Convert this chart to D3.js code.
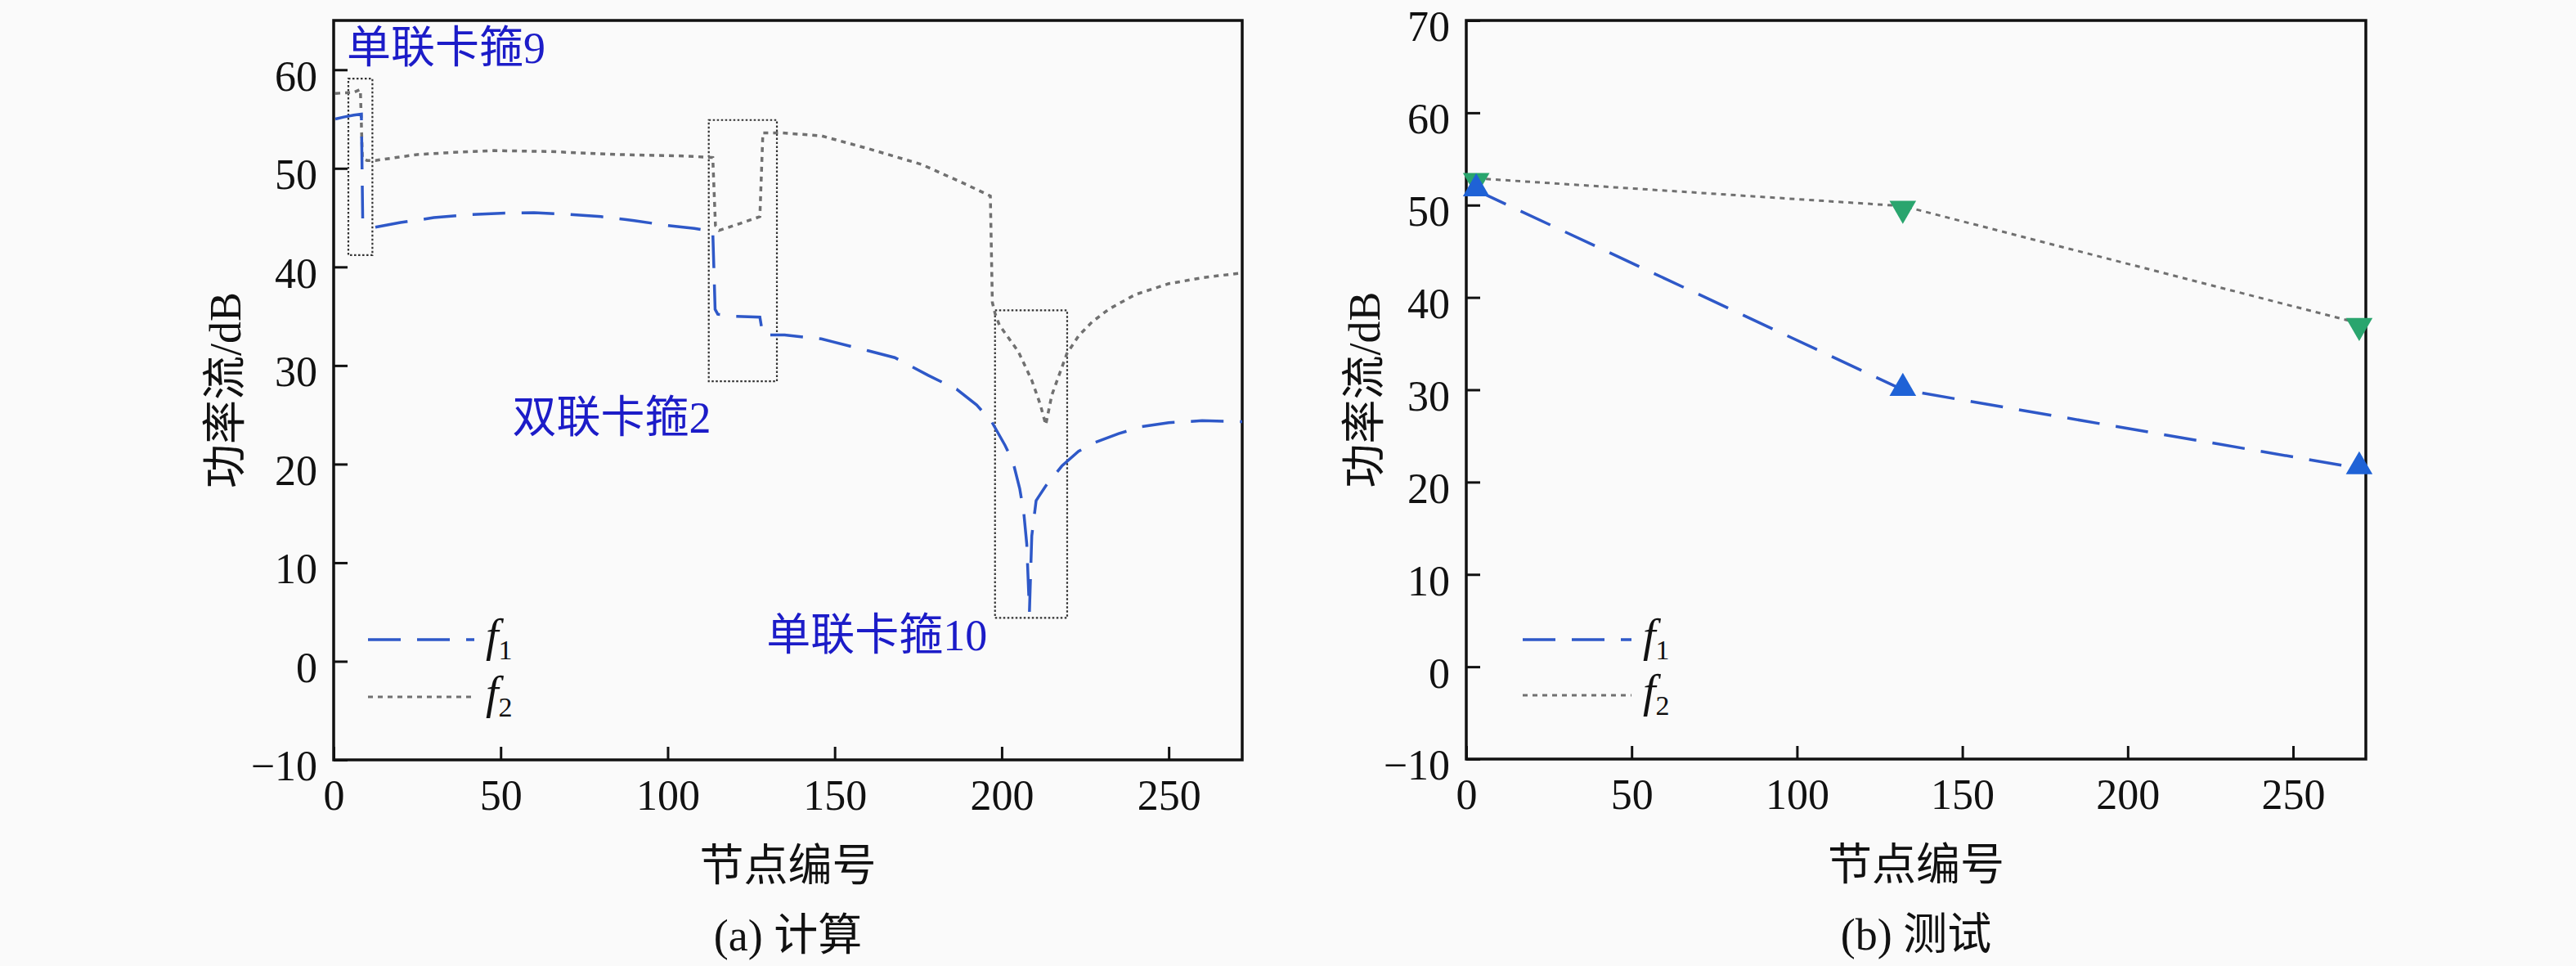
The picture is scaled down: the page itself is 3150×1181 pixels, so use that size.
<!DOCTYPE html>
<html>
<head>
<meta charset="utf-8">
<title>功率流</title>
<script src="https://cdn.jsdelivr.net/npm/d3@7"></script>
<style>
  body { margin: 0; background: #fafafa; }
  svg { display: block; }
  text { font-family: "Liberation Serif", "Noto Sans CJK SC", serif; fill: #111; }
</style>
</head>
<body>
<div id="chart"></div>
<script>
// ---------- data ----------
// (a) 计算 : node index vs power flow (dB)
var calcF1 = [
  [0.5, 55.0], [3, 55.2], [6, 55.4], [8.3, 55.5], [8.7, 44.8], [12, 44.0], [20, 44.5],
  [30, 45.0], [40, 45.3], [50, 45.45], [60, 45.5], [70, 45.35], [80, 45.1], [90, 44.7],
  [100, 44.2], [108, 43.9], [113.5, 43.6], [114.2, 35.7], [115, 35.2], [120, 35.0],
  [127.6, 34.9], [128.5, 33.1], [135, 33.1], [146, 32.7], [160, 31.5], [168, 30.8],
  [178, 29.0], [186.5, 27.6], [192.5, 26.0], [197, 24.3], [201, 21.9], [203.4, 20.2],
  [205.4, 17.5], [206.6, 15.1], [207.5, 11.9], [208.3, 5.0], [209, 12.7], [210.3, 16.3],
  [213.2, 17.8], [218, 19.8], [223, 21.3], [228, 22.2], [235, 23.1], [242, 23.8],
  [250, 24.2], [260, 24.4], [272, 24.3]
];
var calcF2 = [
  [0.5, 57.6], [6, 57.7], [8.0, 58.0], [8.6, 51.0], [10, 50.8], [12.5, 50.8], [25, 51.4],
  [35, 51.6], [48, 51.8], [65, 51.7], [85, 51.4], [105, 51.25], [113.5, 51.1],
  [114.3, 44.2], [115.4, 43.7], [121.6, 44.4], [127.6, 45.1], [128.5, 53.6], [134, 53.6],
  [146, 53.3], [160, 52.0], [176, 50.4], [188.5, 48.5], [196.6, 47.2], [197.2, 36.4],
  [198, 35.3], [199.3, 34.1], [205, 31.4], [209, 28.5], [211.5, 26.1], [213.2, 24.0],
  [215, 27.0], [219.5, 31.2], [223, 33.0], [227, 34.4], [232, 35.7], [240, 37.2],
  [250, 38.3], [260, 38.9], [272, 39.4]
];
// dotted boxes around the clamps: [x0, x1, y0, y1]
var clampBoxes = [[4.4, 11.6, 41.2, 59.1], [112.3, 132.7, 28.4, 54.9], [198, 219.6, 4.4, 35.6]];
// clamp labels: [text, x, y]
var clampLabels = [["单联卡箍9", 3.9, 62.2], ["双联卡箍2", 53.5, 24.7], ["单联卡箍10", 129.6, 2.6]];

// (b) 测试
var testNodes = [3, 132, 270];
var testF1 = [51.6, 30.0, 21.5];
var testF2 = [52.9, 49.9, 37.2];

var xTicks = [0, 50, 100, 150, 200, 250];
var yTicksA = [-10, 0, 10, 20, 30, 40, 50, 60];
var yTicksB = [-10, 0, 10, 20, 30, 40, 50, 60, 70];

// ---------- setup ----------
var W = 3150, H = 1181;
var svg = d3.select("#chart").append("svg").attr("width", W).attr("height", H);

var blue = "#2e58c8", grey = "#707070";
var fmt = function(d) { return d < 0 ? "\u2212" + (-d) : d; };

function panel(opt) {
  var g = svg.append("g");
  var x = d3.scaleLinear().domain([0, 272]).range([opt.left, opt.right]);
  var y = d3.scaleLinear().domain(opt.ydom).range([opt.bottom, opt.top]);

  g.append("clipPath").attr("id", opt.id).append("rect")
    .attr("x", opt.left).attr("y", opt.top)
    .attr("width", opt.right - opt.left).attr("height", opt.bottom - opt.top);

  var xa = g.append("g").attr("transform", "translate(0," + opt.bottom + ")")
    .call(d3.axisBottom(x).tickValues(xTicks).tickSize(-16).tickPadding(24));
  var ya = g.append("g").attr("transform", "translate(" + opt.left + ",0)")
    .call(d3.axisLeft(y).tickValues(opt.yticks).tickSize(-17).tickPadding(20).tickFormat(fmt));
  [xa, ya].forEach(function(a) {
    a.select(".domain").remove();
    a.selectAll("line").attr("stroke", "#111").attr("stroke-width", 3);
    a.selectAll("text").attr("font-size", 52).attr("fill", "#111")
      .attr("font-family", "Liberation Serif, serif");
  });
  xa.selectAll("text").attr("dy", "0.71em");
  ya.selectAll("text").attr("dy", "0.48em");

  g.append("rect").attr("x", opt.left).attr("y", opt.top)
    .attr("width", opt.right - opt.left).attr("height", opt.bottom - opt.top)
    .attr("fill", "none").attr("stroke", "#111").attr("stroke-width", 3.5);

  var cx = (opt.left + opt.right) / 2;
  g.append("text").attr("x", cx).attr("y", opt.bottom + 130)
    .attr("text-anchor", "middle").attr("dominant-baseline", "central")
    .attr("font-size", 54).text("节点编号");
  g.append("text").attr("x", cx).attr("y", opt.bottom + 215)
    .attr("text-anchor", "middle").attr("dominant-baseline", "central")
    .attr("font-size", 54).text(opt.caption);
  g.append("text")
    .attr("transform", "translate(" + opt.ylabX + "," + ((opt.top + opt.bottom) / 2) + ") rotate(-90)")
    .attr("text-anchor", "middle").attr("dominant-baseline", "central")
    .attr("font-size", 54).text("功率流/dB");

  // legend
  var lg = g.append("g");
  var items = [{ n: "1", c: blue, d: "40,20", w: 3.5 }, { n: "2", c: grey, d: "6,6", w: 3 }];
  items.forEach(function(it, i) {
    var ly = opt.legY + i * opt.legGap;
    lg.append("line").attr("x1", opt.left + opt.legX).attr("x2", opt.left + opt.legX + opt.legLen)
      .attr("y1", ly).attr("y2", ly)
      .attr("stroke", it.c).attr("stroke-width", it.w).attr("stroke-dasharray", it.d);
    var t = lg.append("text").attr("x", opt.left + opt.legX + opt.legLen + 14).attr("y", ly + 14)
      .attr("font-size", 56).attr("font-family", "Liberation Serif, serif");
    t.append("tspan").attr("font-style", "italic").text("f");
    t.append("tspan").attr("font-size", 34).attr("dy", 10).text(it.n);
  });

  return { g: g, x: x, y: y };
}

// ---------- (a) 计算 ----------
var A = panel({ id: "clipA", left: 408, right: 1519, top: 25, bottom: 929, ydom: [-10, 65],
  yticks: yTicksA, caption: "(a) 计算", ylabX: 276,
  legX: 42, legLen: 130, legY: 782, legGap: 70 });

var lineA = d3.line().x(function(d) { return A.x(d[0]); }).y(function(d) { return A.y(d[1]); });
var plotA = A.g.append("g").attr("clip-path", "url(#clipA)");

plotA.selectAll("rect.box").data(clampBoxes).enter().append("rect").attr("class", "box")
  .attr("x", function(d) { return A.x(d[0]); })
  .attr("y", function(d) { return A.y(d[3]); })
  .attr("width", function(d) { return A.x(d[1]) - A.x(d[0]); })
  .attr("height", function(d) { return A.y(d[2]) - A.y(d[3]); })
  .attr("fill", "none").attr("stroke", "#333").attr("stroke-width", 2.2)
  .attr("stroke-dasharray", "2.5,2.5");

plotA.append("path").datum(calcF2).attr("d", lineA)
  .attr("fill", "none").attr("stroke", grey).attr("stroke-width", 3.5)
  .attr("stroke-dasharray", "6,6");
plotA.append("path").datum(calcF1).attr("d", lineA)
  .attr("fill", "none").attr("stroke", blue).attr("stroke-width", 3.5)
  .attr("stroke-dasharray", "40,20");

A.g.selectAll("text.clamp").data(clampLabels).enter().append("text").attr("class", "clamp")
  .attr("x", function(d) { return A.x(d[1]); })
  .attr("y", function(d) { return A.y(d[2]); })
  .attr("dominant-baseline", "central").attr("font-size", 54)
  .style("fill", "#1c1cc8").text(function(d) { return d[0]; });

// ---------- (b) 测试 ----------
var B = panel({ id: "clipB", left: 1793, right: 2893, top: 25, bottom: 928, ydom: [-10, 70],
  yticks: yTicksB, caption: "(b) 测试", ylabX: 1669,
  legX: 69, legLen: 133, legY: 782, legGap: 68 });

var rowsF1 = testNodes.map(function(n, i) { return [n, testF1[i]]; });
var rowsF2 = testNodes.map(function(n, i) { return [n, testF2[i]]; });
var lineB = d3.line().x(function(d) { return B.x(d[0]); }).y(function(d) { return B.y(d[1]); });

B.g.append("path").datum(rowsF2).attr("d", lineB)
  .attr("fill", "none").attr("stroke", grey).attr("stroke-width", 3)
  .attr("stroke-dasharray", "6,6");
B.g.append("path").datum(rowsF1).attr("d", lineB)
  .attr("fill", "none").attr("stroke", blue).attr("stroke-width", 3.5)
  .attr("stroke-dasharray", "40,20");

var tri = d3.symbol().type(d3.symbolTriangle).size(460);
B.g.selectAll("path.up").data(rowsF2).enter().append("path").attr("class", "up")
  .attr("d", tri)
  .attr("transform", function(d) { return "translate(" + B.x(d[0]) + "," + (B.y(d[1]) + 3) + ") rotate(180)"; })
  .attr("fill", "#2aa56e");
B.g.selectAll("path.dn").data(rowsF1).enter().append("path").attr("class", "dn")
  .attr("d", tri)
  .attr("transform", function(d) { return "translate(" + B.x(d[0]) + "," + (B.y(d[1]) - 2) + ")"; })
  .attr("fill", "#1f62d6");
</script>
</body>
</html>
